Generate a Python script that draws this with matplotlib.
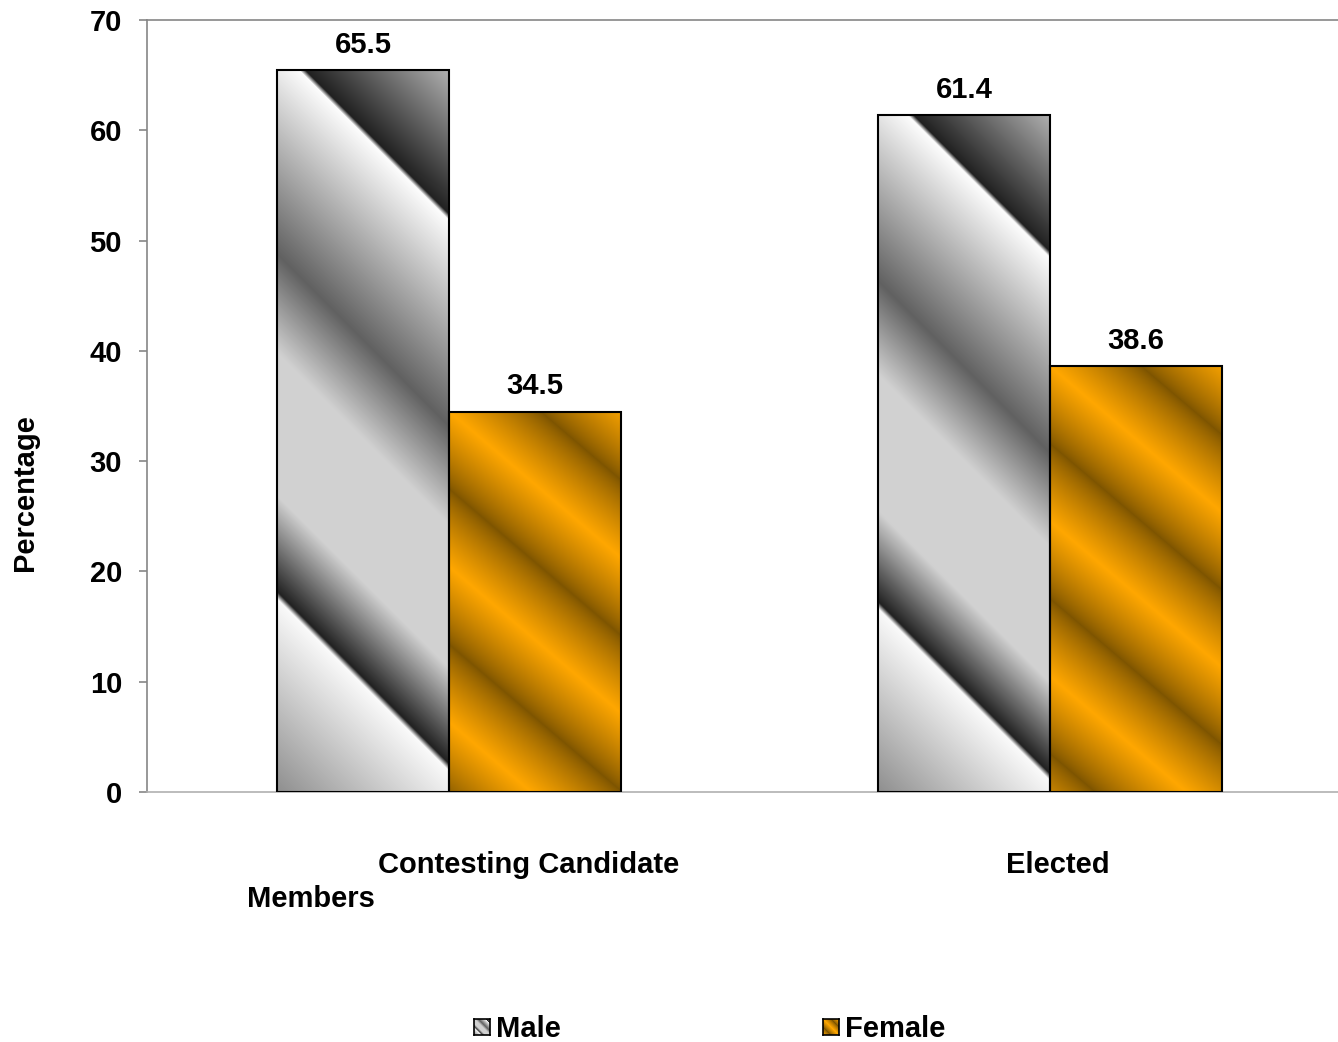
import numpy as np
import matplotlib
matplotlib.use("Agg")
import matplotlib.pyplot as plt

plt.rcParams['font.family'] = ['Liberation Sans', 'DejaVu Sans']
plt.rcParams['font.weight'] = 'bold'

categories = ["Contesting Candidate\nMembers", "Elected"]
series_names = ["Male", "Female"]
male = [65.5, 61.4]
female = [34.5, 38.6]
yticks = [0, 10, 20, 30, 40, 50, 60, 70]

FS = 21
W, H = 1338, 1042
fig = plt.figure(figsize=(W / 100, H / 100), dpi=100)
ax = fig.add_axes([147 / W, 1 - 792 / H, (W - 147) / W, (792 - 20) / H])

bw = 0.286
x = np.arange(len(categories))
ax.set_xlim(-0.5025, 1.479)
ax.set_ylim(0, 70)

bars_m = ax.bar(x - bw / 2, male, bw, facecolor='none', edgecolor='black', linewidth=1.5, zorder=3)
bars_f = ax.bar(x + bw / 2, female, bw, facecolor='none', edgecolor='black', linewidth=1.5, zorder=3)

# gradient profiles
m_stops = [0.0, 0.215, 0.223, 0.33, 0.49, 0.60, 0.83, 0.837, 1.0]
m_vals = [0.56, 0.98, 0.13, 0.82, 0.82, 0.38, 0.99, 0.13, 0.70]

c_bright = np.array([1.0, 0.655, 0.0])
c_dark = np.array([0.49, 0.33, 0.0])


def male_img(wpx, hpx):
    xs = np.arange(wpx)[None, :]
    ys = np.arange(hpx)[:, None]
    u = (xs + ys) / float(wpx + hpx)
    g = np.interp(u, m_stops, m_vals)
    return np.dstack([g, g, g])


def female_img(wpx, hpx, period=155.0, slope=0.85):
    xs = np.arange(wpx)[None, :]
    ys = np.arange(hpx)[:, None]
    # anchored at the top-left corner
    t = ((slope * xs + ys - (hpx - 1)) / period) % 1.0
    k = np.abs(2 * t - 1)                   # 1 bright at t=0, 0 dark at t=.5
    k = k ** 0.8
    img = c_dark[None, None, :] * (1 - k[..., None]) + c_bright[None, None, :] * k[..., None]
    return img


def fill(bars, maker):
    for b in bars:
        x0, y0 = b.get_x(), b.get_y()
        x1, y1 = x0 + b.get_width(), y0 + b.get_height()
        p0 = ax.transData.transform((x0, y0))
        p1 = ax.transData.transform((x1, y1))
        wpx = max(int(round(p1[0] - p0[0])), 2)
        hpx = max(int(round(p1[1] - p0[1])), 2)
        im = ax.imshow(maker(wpx, hpx), origin='lower', extent=(x0, x1, y0, y1),
                       aspect='auto', zorder=2, interpolation='bilinear')
        im.set_clip_path(b)


fill(bars_m, male_img)
fill(bars_f, female_img)
ax.set_xlim(-0.5025, 1.479)
ax.set_ylim(0, 70)

for bars, vals in [(bars_m, male), (bars_f, female)]:
    for b, v in zip(bars, vals):
        ax.annotate(f"{v:.1f}", (b.get_x() + b.get_width() / 2, v), xytext=(0, 8),
                    textcoords='offset points', ha='center', va='bottom',
                    fontsize=FS, fontweight='bold')

# axes styling
ax.spines['right'].set_visible(False)
ax.spines['left'].set_color('#868686')
ax.spines['top'].set_color('#868686')
ax.spines['bottom'].set_color('#b0b0b0')
for s in ['left', 'top', 'bottom']:
    ax.spines[s].set_linewidth(1.2)
ax.set_yticks(yticks)
ax.set_yticklabels([str(t) for t in yticks], fontsize=FS, fontweight='bold')
ax.tick_params(axis='y', direction='out', length=6, width=1.2, color='#868686', pad=12)
ax.set_xticks([])

# category labels (wrapped as in reference)
trans = ax.get_xaxis_transform()
first, second = categories[0].split("\n")
ax.text(x[0] + 0.133, -0.095, first, transform=trans, ha='center', va='center',
        fontsize=FS, fontweight='bold')
ax.text(x[0] - 0.23, -0.139, second, transform=trans, ha='center', va='center',
        fontsize=FS, fontweight='bold')
ax.text(x[1] + 0.013, -0.095, categories[1], transform=trans, ha='center', va='center',
        fontsize=FS, fontweight='bold')

fig.text(25 / W, 1 - 493 / H, "Percentage", rotation=90, ha='center', va='center',
         fontsize=FS, fontweight='bold')

# legend
leg_items = [(series_names[0], 474, 'm'), (series_names[1], 823, 'f')]
for name, lx, kind in leg_items:
    lax = fig.add_axes([lx / W, 1 - 1035 / H, 16 / W, 16 / H])
    img = male_img(16, 16) if kind == 'm' else female_img(16, 16, period=16, slope=1.0)
    lax.imshow(img, origin='lower', aspect='auto', extent=(0, 1, 0, 1))
    lax.set_xticks([]); lax.set_yticks([])
    for s in lax.spines.values():
        s.set_color('black'); s.set_linewidth(1.2)
    fig.text((lx + 22) / W, 1 - 1037 / H, name, ha='left', va='baseline',
             fontsize=FS, fontweight='bold')

fig.savefig("out.png", dpi=100)
